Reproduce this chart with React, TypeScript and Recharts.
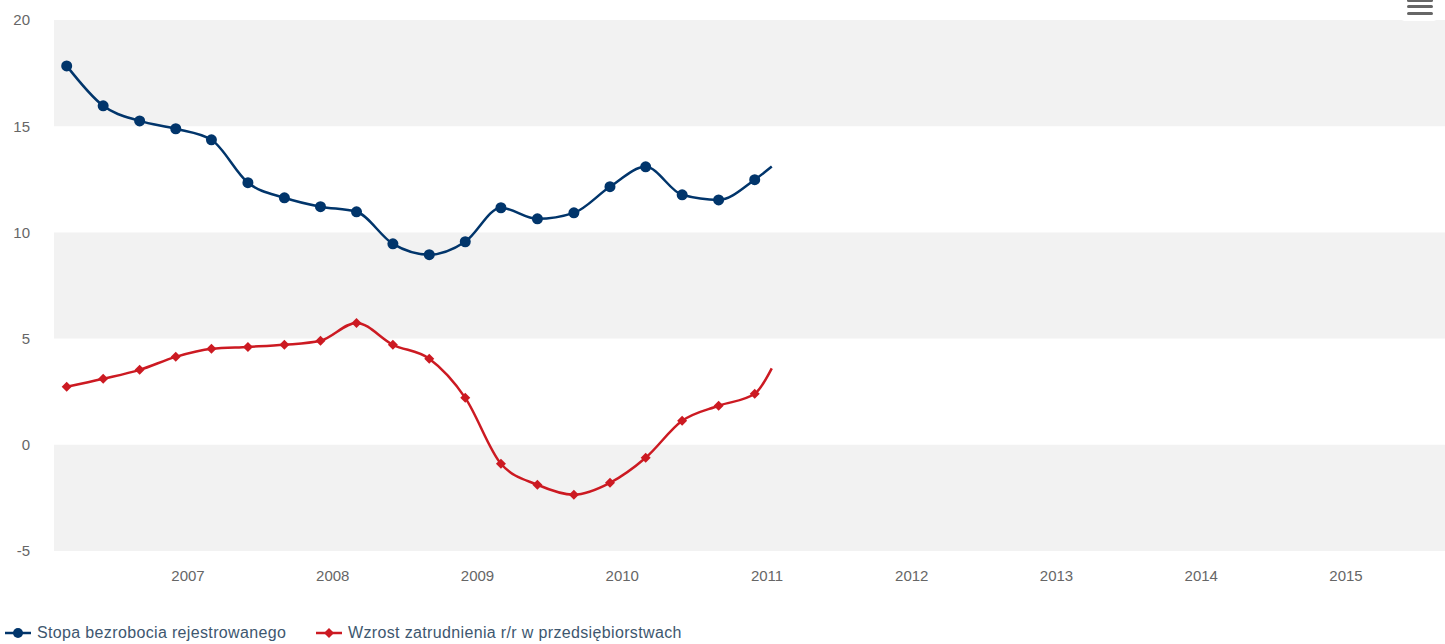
import React from 'react';
import { LineChart, Line, XAxis, YAxis, ReferenceArea } from 'recharts';

// Quarterly observations (first day of Mar, Jun, Sep, Dec); last entry is where the drawn line ends (no marker)
const dates = [
  '2006-03-01', '2006-06-01', '2006-09-01', '2006-12-01',
  '2007-03-01', '2007-06-01', '2007-09-01', '2007-12-01',
  '2008-03-01', '2008-06-01', '2008-09-01', '2008-12-01',
  '2009-03-01', '2009-06-01', '2009-09-01', '2009-12-01',
  '2010-03-01', '2010-06-01', '2010-09-01', '2010-12-01',
  '2011-01-13',
];
const unemployment = [
  17.84, 15.96, 15.25, 14.88, 14.36, 12.34, 11.63, 11.21,
  10.97, 9.46, 8.95, 9.56, 11.16, 10.64, 10.92, 12.15,
  13.09, 11.77, 11.53, 12.48, 13.1,
];
const employmentGrowth = [
  2.73, 3.11, 3.53, 4.14, 4.52, 4.61, 4.71, 4.9,
  5.74, 4.71, 4.05, 2.21, -0.89, -1.88, -2.35, -1.79,
  -0.61, 1.13, 1.84, 2.4, 3.6,
];
const markerless = [20];
const yearTicks = [2007, 2008, 2009, 2010, 2011, 2012, 2013, 2014, 2015];
const yTicks = [-5, 0, 5, 10, 15, 20];
const bands: [number, number][] = [[15, 20], [5, 10], [-5, 0]];
const seriesNames = ['Stopa bezrobocia rejestrowanego', 'Wzrost zatrudnienia r/r w przedsiębiorstwach'];

const BLUE = '#01356b';
const RED = '#cc1a22';

const toYear = (s: string) => {
  const d = new Date(s + 'T00:00:00Z');
  const y = d.getUTCFullYear();
  const start = Date.UTC(y, 0, 1);
  const end = Date.UTC(y + 1, 0, 1);
  return y + (d.getTime() - start) / (end - start);
};

const data = dates.map((d, i) => ({
  t: toYear(d),
  u: unemployment[i],
  e: employmentGrowth[i],
  idx: i,
}));

const CircleDot = (props: any) => {
  const { cx, cy, payload } = props;
  if (markerless.includes(payload.idx) || cx == null) return <g key={props.key} />;
  return <circle key={props.key} cx={cx} cy={cy} r={5.5} fill={BLUE} />;
};
const DiamondDot = (props: any) => {
  const { cx, cy, payload } = props;
  if (markerless.includes(payload.idx) || cx == null) return <g key={props.key} />;
  const r = 5;
  return (
    <polygon
      key={props.key}
      points={`${cx},${cy - r} ${cx + r},${cy} ${cx},${cy + r} ${cx - r},${cy}`}
      fill={RED}
    />
  );
};

const LegendIcon = ({ color, diamond }: { color: string; diamond?: boolean }) => (
  <svg width={26} height={12} style={{ marginRight: 6 }}>
    <line x1={0} y1={6} x2={26} y2={6} stroke={color} strokeWidth={2.5} />
    {diamond ? (
      <polygon points="13,1 18,6 13,11 8,6" fill={color} />
    ) : (
      <circle cx={13} cy={6} r={5} fill={color} />
    )}
  </svg>
);

export default function App() {
  return (
    <div style={{ position: 'absolute', left: 0, top: 0, width: 1445, height: 644, fontFamily: '"Liberation Sans", Arial, sans-serif' }}>
      <LineChart width={1445} height={644} data={data} margin={{ top: 20, right: 0, left: 0, bottom: 53 }}>
        {bands.map(([a, b], i) => (
          <ReferenceArea key={i} y1={a} y2={b} fill="#f2f2f2" fillOpacity={1} stroke="none" ifOverflow="hidden" />
        ))}
        <XAxis
          dataKey="t"
          type="number"
          domain={[2006.074, 2015.684]}
          allowDataOverflow
          ticks={yearTicks}
          tickFormatter={(v: number) => String(Math.round(v))}
          axisLine={false}
          tickLine={false}
          tickSize={6}
          tickMargin={13}
          height={40}
          tick={{ fill: '#666666', fontSize: 15 }}
        />
        <YAxis
          type="number"
          domain={[-5, 20]}
          ticks={yTicks}
          axisLine={false}
          tickLine={false}
          tickSize={6}
          tickMargin={18}
          width={54}
          tick={{ fill: '#666666', fontSize: 15 }}
        />
        <Line
          dataKey="u"
          type="monotoneX"
          stroke={BLUE}
          strokeWidth={2.5}
          dot={CircleDot}
          activeDot={false}
          isAnimationActive={false}
        />
        <Line
          dataKey="e"
          type="monotoneX"
          stroke={RED}
          strokeWidth={2.5}
          dot={DiamondDot}
          activeDot={false}
          isAnimationActive={false}
        />
      </LineChart>
      <div style={{ position: 'absolute', left: 0, top: 0, width: 1445 }}>
        <div
          style={{
            position: 'absolute', left: 1401, top: 0, width: 36, height: 21,
            background: '#ffffff', borderRadius: '0 0 4px 4px',
          }}
        >
          {[0, 6, 13].map((y, i) => (
            <div key={i} style={{ position: 'absolute', left: 6, top: y - 1, width: 26, height: 3, borderRadius: 1.5, background: '#666666' }} />
          ))}
        </div>
      </div>
      <div
        style={{
          position: 'absolute', left: 5, top: 623, height: 20, display: 'flex', alignItems: 'center',
          fontSize: 16, letterSpacing: '0.35px', color: '#3e576f', whiteSpace: 'nowrap',
        }}
      >
        <div style={{ display: 'flex', alignItems: 'center', width: 311 }}>
          <LegendIcon color={BLUE} />
          <span>{seriesNames[0]}</span>
        </div>
        <div style={{ display: 'flex', alignItems: 'center' }}>
          <LegendIcon color={RED} diamond />
          <span>{seriesNames[1]}</span>
        </div>
      </div>
    </div>
  );
}
